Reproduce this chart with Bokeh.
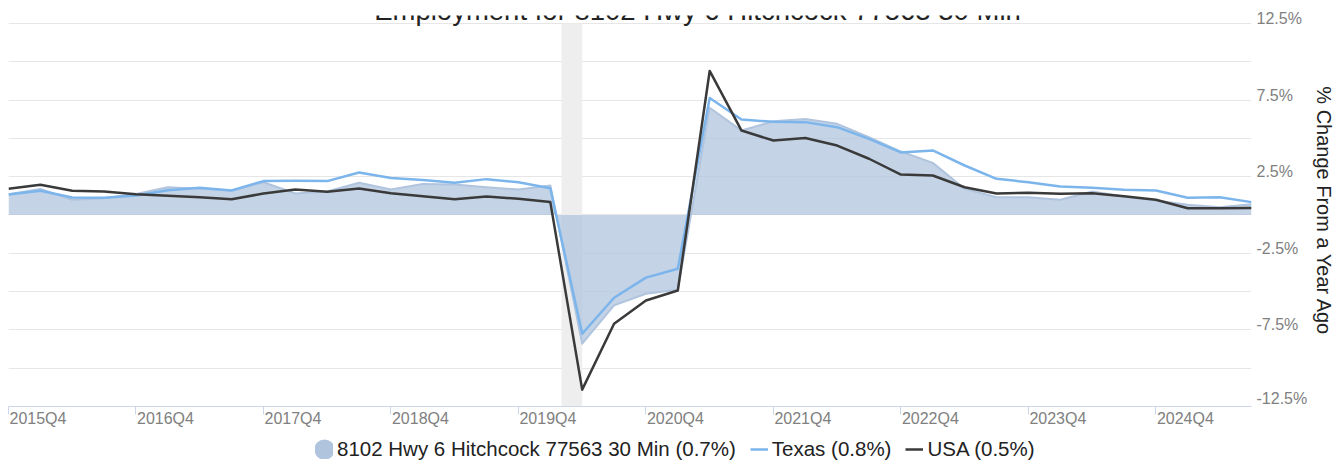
from bokeh.plotting import figure
from bokeh.layouts import column
from bokeh.models import ColumnDataSource, FixedTicker, Range1d, Label, Legend, LegendItem
from bokeh.embed import file_html
from bokeh.resources import INLINE

# ---------------- data (quarterly, 2015Q4 .. 2025Q3) ----------------
x_tick_labels = ["2015Q4", "2016Q4", "2017Q4", "2018Q4", "2019Q4",
                 "2020Q4", "2021Q4", "2022Q4", "2023Q4", "2024Q4"]
local = [1.35, 1.70, 0.99, 1.10, 1.37, 1.81, 1.71, 1.60, 2.14, 1.40,
         1.53, 2.10, 1.66, 2.03, 1.99, 1.81, 1.66, 1.92, -8.40, -5.90,
         -5.14, -4.88, 7.00, 5.51, 6.12, 6.27, 5.95, 5.08, 4.14, 3.40,
         1.71, 1.16, 1.16, 0.99, 1.53, 1.21, 0.95, 0.67, 0.51, 0.70]
texas = [1.34, 1.58, 1.14, 1.12, 1.27, 1.62, 1.77, 1.60, 2.21, 2.23,
         2.21, 2.77, 2.42, 2.29, 2.10, 2.34, 2.14, 1.75, -7.75, -5.40,
         -4.09, -3.51, 7.63, 6.23, 6.08, 6.06, 5.73, 4.97, 4.08, 4.21,
         3.23, 2.36, 2.14, 1.86, 1.77, 1.64, 1.60, 1.12, 1.16, 0.84]
usa = [1.71, 1.97, 1.58, 1.53, 1.36, 1.25, 1.16, 1.03, 1.40, 1.66,
       1.51, 1.73, 1.42, 1.23, 1.03, 1.21, 1.06, 0.84, -11.40, -7.10,
       -5.58, -4.93, 9.40, 5.51, 4.86, 5.03, 4.53, 3.67, 2.64, 2.58,
       1.81, 1.40, 1.45, 1.38, 1.42, 1.23, 0.99, 0.44, 0.44, 0.46]
recession_start = [17.35]   # Feb 2020 (quarter index units)
recession_end = [18.0]      # Apr 2020
y_label_values = [12.5, 7.5, 2.5, -2.5, -7.5, -12.5]
y_grid_values = [12.5, 10, 7.5, 5, 2.5, 0, -2.5, -5, -7.5, -10, -12.5]
title_text = "Employment for 8102 Hwy 6 Hitchcock 77563 30 Min"
legend_local = "8102 Hwy 6 Hitchcock 77563 30 Min (0.7%)"
legend_texas = "Texas (0.8%)"
legend_usa = "USA (0.5%)"
y_axis_title = "% Change From a Year Ago"

FONT = "Liberation Sans"
C_LOCAL, C_TX, C_US = "#b0c4de", "#7cb5ec", "#3a3a3a"
xs = list(range(len(usa)))
src = ColumnDataSource(dict(x=xs, local=local, texas=texas, usa=usa, zero=[0] * len(xs)))

p = figure(width=1344, height=429, output_backend="svg", toolbar_location=None,
           x_range=Range1d(0, 39), y_range=Range1d(-12.5, 13.02),
           y_axis_location="right",
           min_border_left=8, min_border_right=93, min_border_top=15, min_border_bottom=23)
p.outline_line_color = None
p.background_fill_color = "white"
p.border_fill_color = "white"

# recession band
p.quad(left=recession_start, right=recession_end, bottom=[-12.5], top=[12.5],
       fill_color="#eeeeee", line_color=None)

# area + lines
p.varea(x="x", y1="zero", y2="local", source=src, fill_color=C_LOCAL, fill_alpha=0.75)
p.line(x="x", y="local", source=src, line_color=C_LOCAL, line_width=2, line_join="round")
p.line(x="x", y="texas", source=src, line_color=C_TX, line_width=2.5, line_join="round")
p.line(x="x", y="usa", source=src, line_color=C_US, line_width=2.5, line_join="round")

# x axis: tick marks at each Q4, labels left-aligned after the tick
tick_idx = [i * 4 for i in range(len(x_tick_labels))]
label_pos = [round(t + 0.925, 3) for t in tick_idx]
xa = p.xaxis[0]
xa.ticker = FixedTicker(ticks=label_pos, minor_ticks=tick_idx)
xa.major_label_overrides = {pos: lab for pos, lab in zip(label_pos, x_tick_labels)}
xa.major_tick_line_color = None
xa.major_tick_out = 0
xa.major_tick_in = 0
xa.minor_tick_line_color = "#ccd6eb"
xa.minor_tick_out = 8
xa.minor_tick_in = 0
xa.axis_line_color = "#ccd6eb"
xa.major_label_standoff = -5
xa.major_label_text_font = FONT
xa.major_label_text_font_size = "16px"
xa.major_label_text_color = "#808080"

# y axis on the right
y_shift = [0.33, 0.33, 0.33, 0.33, 0.33, 0.55]
y_pos = [round(v + s, 2) for v, s in zip(y_label_values, y_shift)]
ya = p.yaxis[0]
ya.ticker = FixedTicker(ticks=y_pos, minor_ticks=[])
ya.major_label_overrides = {pos: f"{v}%" for pos, v in zip(y_pos, y_label_values)}
ya.axis_line_color = None
ya.major_tick_line_color = None
ya.minor_tick_line_color = None
ya.major_tick_out = 0
ya.major_tick_in = 0
ya.major_label_standoff = 5
ya.major_label_text_font = FONT
ya.major_label_text_font_size = "16px"
ya.major_label_text_color = "#808080"
ya.axis_label = y_axis_title
ya.axis_label_text_font = FONT
ya.axis_label_text_font_size = "20px"
ya.axis_label_text_font_style = "normal"
ya.axis_label_text_color = "#222222"
ya.axis_label_standoff = 3

p.xgrid.visible = False
p.ygrid.ticker = FixedTicker(ticks=y_grid_values)
p.ygrid.grid_line_color = "#e6e6e6"
p.ygrid.grid_line_width = 1

# title (cropped at the top like the reference)
p.add_layout(Label(x=689, y=396, x_units="screen", y_units="screen", text=title_text,
                   text_align="center", text_baseline="alphabetic",
                   text_font=FONT, text_font_size="27.5px", text_color="#222222"))

# ---------------- legend strip ----------------
lg = figure(width=1344, height=35, output_backend="svg", toolbar_location=None,
            x_range=Range1d(0, 1), y_range=Range1d(0, 1),
            x_axis_type=None, y_axis_type=None, min_border=0)
lg.outline_line_color = None
lg.background_fill_color = "white"
lg.border_fill_color = "white"
# legend-key renderers: their single point lies outside the strip's range
r_dot = lg.scatter(x=[-10], y=[-10], marker="circle", size=6, fill_color=C_LOCAL,
                   line_color=C_LOCAL, line_width=13)
r_tx = lg.line(x=[-10, -9], y=[-10, -10], line_color=C_TX, line_width=2.5)
r_us = lg.line(x=[-10, -9], y=[-10, -10], line_color=C_US, line_width=2.5)
leg = Legend(items=[LegendItem(label=legend_local, renderers=[r_dot]),
                    LegendItem(label=legend_texas, renderers=[r_tx]),
                    LegendItem(label=legend_usa, renderers=[r_us])],
             location=(307, 3), orientation="horizontal", glyph_width=18, glyph_height=20,
             label_standoff=4, padding=0, margin=0, spacing=14, label_text_font=FONT,
             label_text_font_size="20.5px", label_text_color="#222222",
             background_fill_alpha=0, border_line_alpha=0)
lg.add_layout(leg, "center")

open("out.html", "w").write(file_html(column(p, lg, spacing=0), INLINE))
